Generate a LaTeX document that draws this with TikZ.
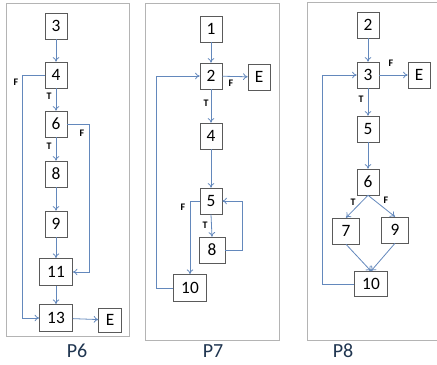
\documentclass[tikz,border=0pt]{standalone}
\usepackage{fontspec}
\setmainfont{Carlito}
\usetikzlibrary{arrows.meta}
\definecolor{edgeblue}{HTML}{6388BC}
\definecolor{framegray}{HTML}{B4B4B4}
\definecolor{boxgray}{HTML}{5A5A5A}
\definecolor{titleblue}{HTML}{1F3550}

\begin{document}
\begin{tikzpicture}[x=0.75pt,y=-0.75pt,
    blk/.style={draw=boxgray,fill=white,inner sep=0pt,minimum width=16.5pt,
      minimum height=19.5pt,font=\fontsize{13}{15}\selectfont},
    wideblk/.style={blk,minimum width=24.75pt,minimum height=20.5pt},
    flow/.style={draw=edgeblue,line width=0.6pt,-{To[length=3.5pt,width=5pt]}},
    tf/.style={font=\fontsize{7.5}{9}\selectfont\bfseries,inner sep=0pt},
    frame/.style={draw=framegray,line width=0.75pt},
    ptitle/.style={font=\fontsize{15}{17}\selectfont,text=titleblue}]
  \useasboundingbox (0,0) rectangle (437,365);%

  % frames
  \draw[frame] (7,3) rectangle (130,336);%
  \draw[frame] (146,3) rectangle (280,340);%
  \draw[frame] (445,2) -- (308,2) -- (308,340) -- (445,340);%

  % P6
  \node[blk] (a3) at (56,26) {3};%
  \node[blk] (a4) at (56,75) {4};%
  \node[blk] (a6) at (56,124) {6};%
  \node[blk] (a8) at (56,174) {8};%
  \node[blk] (a9) at (56,224) {9};%
  \node[wideblk] (a11) at (56,272) {11};%
  \node[wideblk] (a13) at (56,318) {13};%
  \node[blk,minimum width=17pt,minimum height=18pt] (aE) at (110,320) {E};%
  \foreach \u/\v in {a3/a4, a4/a6, a6/a8, a8/a9, a9/a11, a11/a13} \draw[flow] (\u) -- (\v);%
  \draw[flow] (a13) -- (aE);%
  \draw[flow] (a4.west) -- ++(-22,0) |- (a13.west);%
  \draw[flow] (a6.east) -- ++(22,0) |- (a11.east);%
  \node[tf] (aF1) at (16,82) {F};%
  \node[tf] (aT1) at (49,96) {T};%
  \node[tf] (aF2) at (82,133) {F};%
  \node[tf] (aT2) at (49,146) {T};%
  \node[ptitle] (p6) at (77,351) {P6};%

  % P7
  \node[blk] (b1) at (211,29) {1};%
  \node[blk] (b2) at (211,76) {2};%
  \node[blk] (bE) at (259,77) {E};%
  \node[blk] (b4) at (211,136) {4};%
  \node[blk] (b5) at (211,201) {5};%
  \node[blk,minimum width=19.5pt] (b8) at (212,250) {8};%
  \node[wideblk] (b10) at (190,288) {10};%
  \foreach \u/\v in {b1/b2, b2/b4, b4/b5} \draw[flow] (\u) -- (\v);%
  \draw[flow] (b2) -- (bE);%
  \draw[flow] (b5.south) -- (b8.north);%
  \draw[flow] (b8.east) -- ++(17,0) |- (b5.east);%
  \draw[flow] (b5.west) -| (b10.north);%
  \draw[flow] (b10.west) -- ++(-17,0) |- (b2.west);%
  \node[tf] (bF1) at (231,83) {F};%
  \node[tf] (bT1) at (206,103) {T};%
  \node[tf] (bF2) at (183,207) {F};%
  \node[tf] (bT2) at (205,225) {T};%
  \node[ptitle] (p7) at (213,351) {P7};%

  % P8
  \node[blk] (c2) at (368,25) {2};%
  \node[blk] (c3) at (368,75) {3};%
  \node[blk] (cE) at (419,75) {E};%
  \node[blk] (c5) at (368,129) {5};%
  \node[blk] (c6) at (368,182) {6};%
  \node[blk,minimum width=20pt] (c7) at (346,231) {7};%
  \node[blk,minimum width=20pt] (c9) at (395,230) {9};%
  \node[wideblk,minimum height=19pt] (c10) at (371,284) {10};%
  \foreach \u/\v in {c2/c3, c3/c5, c5/c6} \draw[flow] (\u) -- (\v);%
  \draw[flow] (c3) -- (cE);%
  \draw[flow] (c6.south) -- (c7.north);%
  \draw[flow] (c6.south) -- (c9.north);%
  \draw[flow] (c7.south) -- (c10.north);%
  \draw[flow] (c9.south) -- (c10.north);%
  \draw[flow] (c10.west) -- ++(-32,0) |- (c3.west);%
  \node[tf] (cF1) at (391,63) {F};%
  \node[tf] (cT1) at (361,99) {T};%
  \node[tf] (cT2) at (353,202) {T};%
  \node[tf] (cF2) at (386,200) {F};%
  \node[ptitle] (p8) at (343,351) {P8};%
\end{tikzpicture}
\end{document}
